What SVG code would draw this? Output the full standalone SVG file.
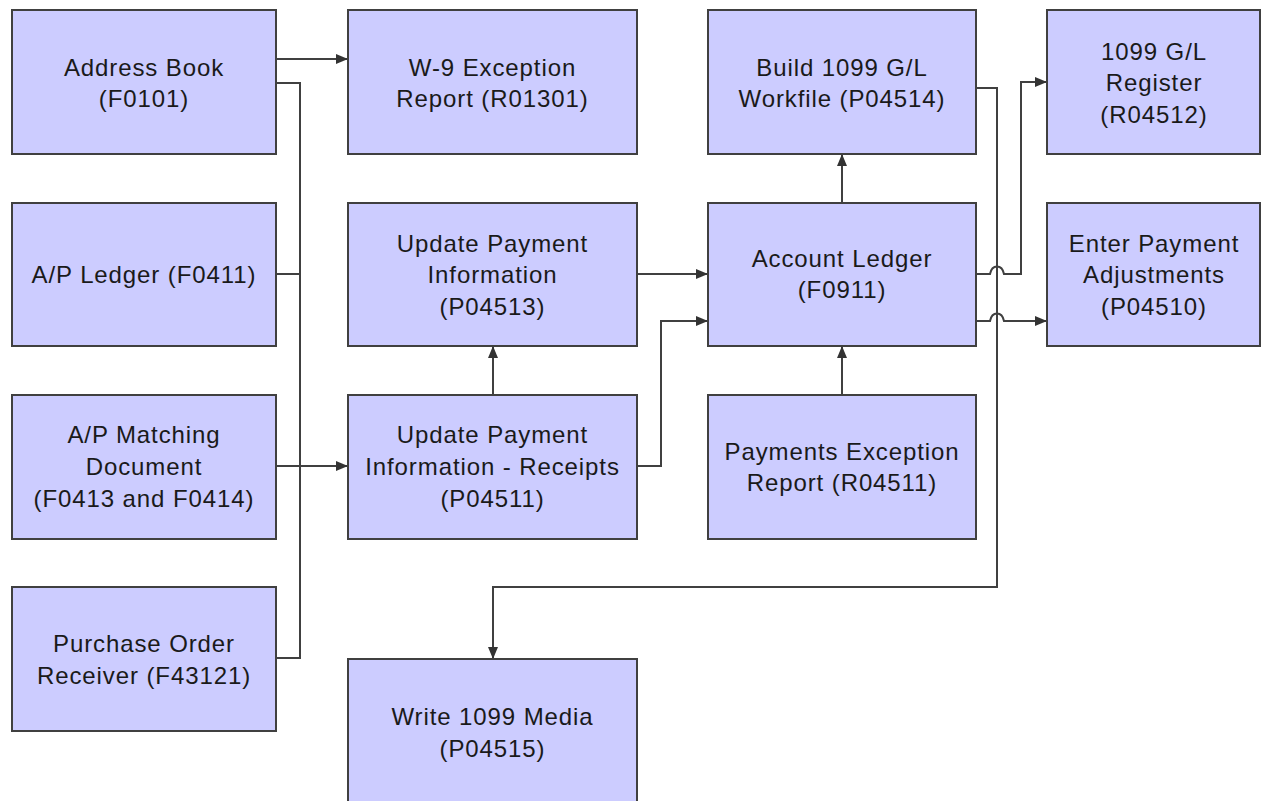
<svg xmlns="http://www.w3.org/2000/svg" width="1262" height="801" viewBox="0 0 1262 801">
<style>
.box{fill:#ccccff;stroke:#404040;stroke-width:2}
.lbl{font-family:"Liberation Sans",Arial,Helvetica,sans-serif;font-size:24px;letter-spacing:0.9px;fill:#1a1a1a;text-anchor:middle}
.ln{fill:none;stroke:#404040;stroke-width:2}
</style>
<defs>
<marker id="arr" markerUnits="userSpaceOnUse" markerWidth="13" markerHeight="10" refX="12" refY="5" orient="auto">
<path d="M0,0 L12,5 L0,10 z" fill="#333333"/>
</marker>
</defs>
<rect width="1262" height="801" fill="#ffffff"/>
<g id="connectors">
<path class="ln" d="M276,59 H348" marker-end="url(#arr)"/>
<path class="ln" d="M276,83 H300 V658 H276"/>
<path class="ln" d="M276,274 H300"/>
<path class="ln" d="M276,466 H348" marker-end="url(#arr)"/>
<path class="ln" d="M493,395 V346" marker-end="url(#arr)"/>
<path class="ln" d="M637,274 H708" marker-end="url(#arr)"/>
<path class="ln" d="M637,466 H661 V321 H708" marker-end="url(#arr)"/>
<path class="ln" d="M842,203 V154" marker-end="url(#arr)"/>
<path class="ln" d="M842,395 V346" marker-end="url(#arr)"/>
<path class="ln" d="M976,88 H997 V587 H493 V659" marker-end="url(#arr)"/>
<path class="ln" d="M976,274 H990 C992,264 1002,264 1004,274 H1021 V82 H1047" marker-end="url(#arr)"/>
<path class="ln" d="M976,321 H990 C992,311 1002,311 1004,321 H1047" marker-end="url(#arr)"/>
</g>
<g id="address-book">
<rect class="box" x="12" y="10" width="264" height="144"/>
<text class="lbl" x="144" y="76">Address Book</text>
<text class="lbl" x="144" y="107">(F0101)</text>
</g>
<g id="ap-ledger">
<rect class="box" x="12" y="203" width="264" height="143"/>
<text class="lbl" x="144" y="283">A/P Ledger (F0411)</text>
</g>
<g id="ap-matching">
<rect class="box" x="12" y="395" width="264" height="144"/>
<text class="lbl" x="144" y="443">A/P Matching</text>
<text class="lbl" x="144" y="475">Document</text>
<text class="lbl" x="144" y="507">(F0413 and F0414)</text>
</g>
<g id="po-receiver">
<rect class="box" x="12" y="587" width="264" height="144"/>
<text class="lbl" x="144" y="652">Purchase Order</text>
<text class="lbl" x="144" y="684">Receiver (F43121)</text>
</g>
<g id="w9-report">
<rect class="box" x="348" y="10" width="289" height="144"/>
<text class="lbl" x="492.5" y="76">W-9 Exception</text>
<text class="lbl" x="492.5" y="107">Report (R01301)</text>
</g>
<g id="update-payment">
<rect class="box" x="348" y="203" width="289" height="143"/>
<text class="lbl" x="492.5" y="252">Update Payment</text>
<text class="lbl" x="492.5" y="283">Information</text>
<text class="lbl" x="492.5" y="315">(P04513)</text>
</g>
<g id="update-receipts">
<rect class="box" x="348" y="395" width="289" height="144"/>
<text class="lbl" x="492.5" y="443">Update Payment</text>
<text class="lbl" x="492.5" y="475">Information - Receipts</text>
<text class="lbl" x="492.5" y="507">(P04511)</text>
</g>
<g id="write-media">
<rect class="box" x="348" y="659" width="289" height="150"/>
<text class="lbl" x="492.5" y="725">Write 1099 Media</text>
<text class="lbl" x="492.5" y="757">(P04515)</text>
</g>
<g id="build-workfile">
<rect class="box" x="708" y="10" width="268" height="144"/>
<text class="lbl" x="842" y="76">Build 1099 G/L</text>
<text class="lbl" x="842" y="107">Workfile (P04514)</text>
</g>
<g id="account-ledger">
<rect class="box" x="708" y="203" width="268" height="143"/>
<text class="lbl" x="842" y="267">Account Ledger</text>
<text class="lbl" x="842" y="298">(F0911)</text>
</g>
<g id="payments-exception">
<rect class="box" x="708" y="395" width="268" height="144"/>
<text class="lbl" x="842" y="460">Payments Exception</text>
<text class="lbl" x="842" y="491">Report (R04511)</text>
</g>
<g id="gl-register">
<rect class="box" x="1047" y="10" width="213" height="144"/>
<text class="lbl" x="1154" y="60">1099 G/L</text>
<text class="lbl" x="1154" y="91">Register</text>
<text class="lbl" x="1154" y="123">(R04512)</text>
</g>
<g id="payment-adjustments">
<rect class="box" x="1047" y="203" width="213" height="143"/>
<text class="lbl" x="1154" y="252">Enter Payment</text>
<text class="lbl" x="1154" y="283">Adjustments</text>
<text class="lbl" x="1154" y="315">(P04510)</text>
</g>
</svg>
